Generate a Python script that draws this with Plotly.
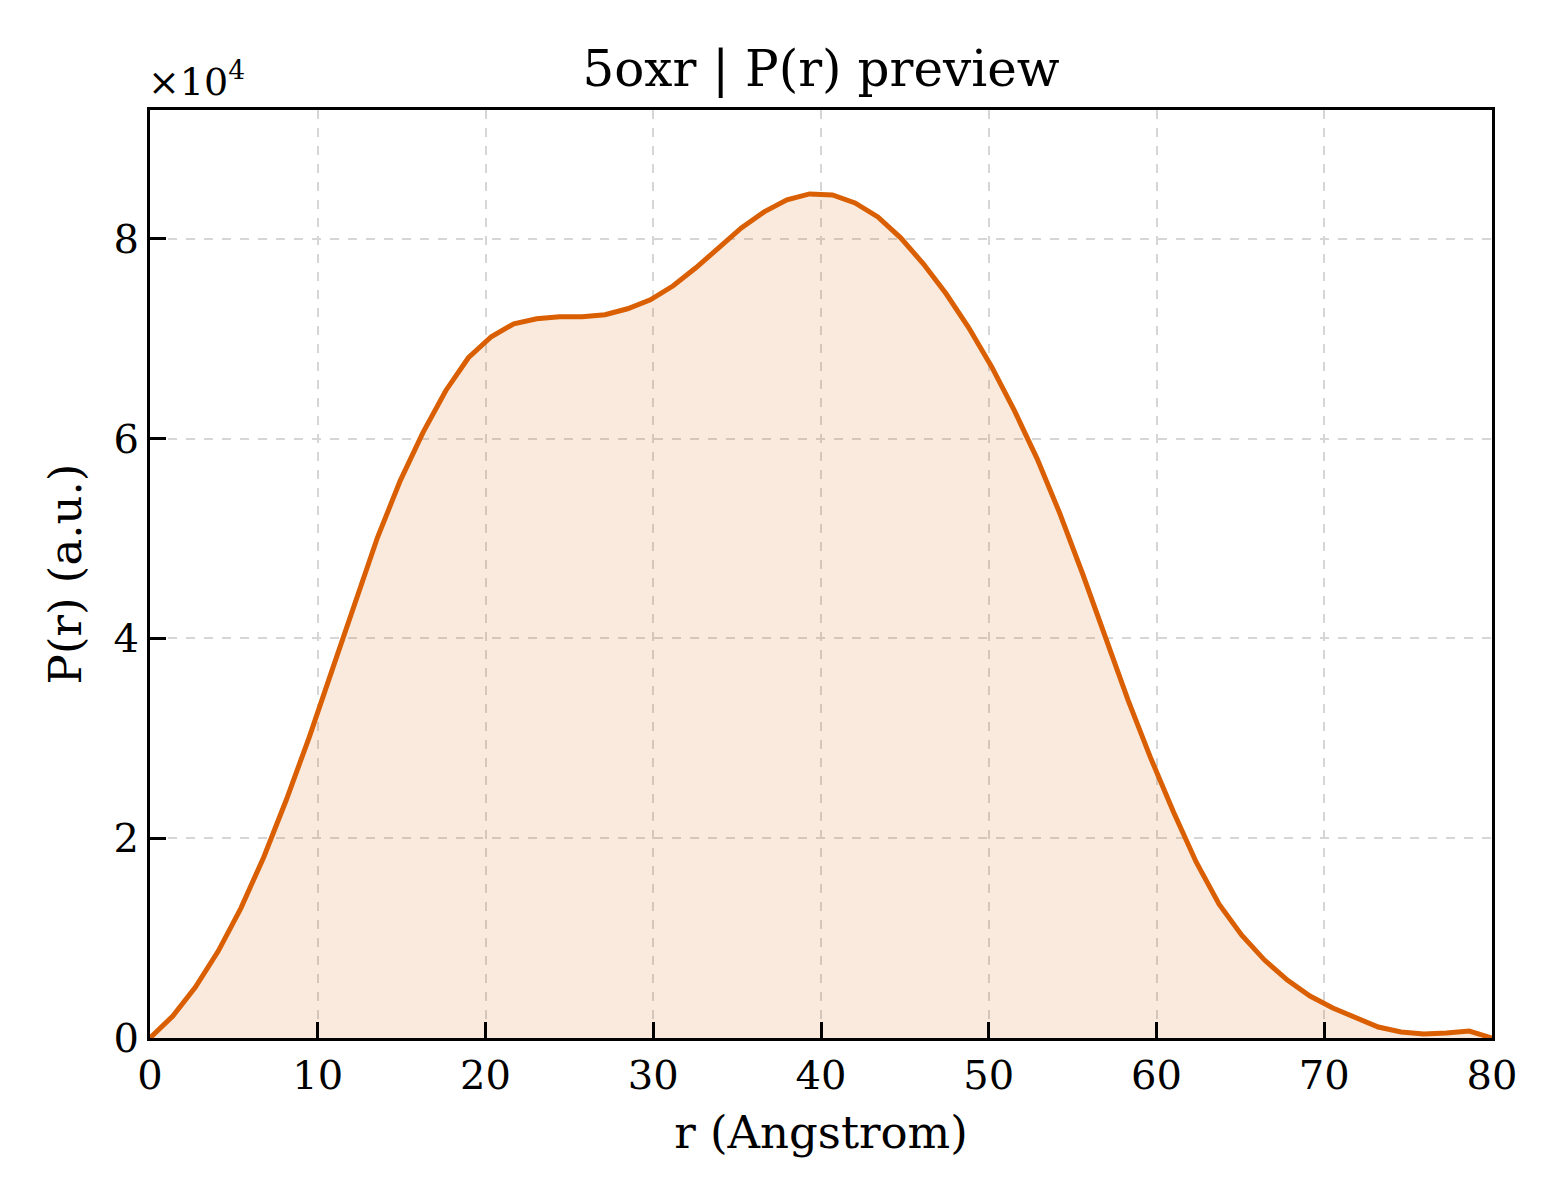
import plotly.graph_objects as go

r_angstrom = [0.00, 1.36, 2.71, 4.07, 5.42, 6.78, 8.14, 9.49, 10.85, 12.20,
              13.56, 14.92, 16.27, 17.63, 18.98, 20.34, 21.69, 23.05, 24.41, 25.76,
              27.12, 28.47, 29.83, 31.19, 32.54, 33.90, 35.25, 36.61, 37.97, 39.32,
              40.68, 42.03, 43.39, 44.75, 46.10, 47.46, 48.81, 50.17, 51.53, 52.88,
              54.24, 55.59, 56.95, 58.31, 59.66, 61.02, 62.37, 63.73, 65.08, 66.44,
              67.80, 69.15, 70.51, 71.86, 73.22, 74.58, 75.93, 77.29, 78.64, 80.00]
p_r = [0, 2200, 5100, 8700, 13000, 18100, 23900, 30100, 36800, 43500,
       50100, 55800, 60600, 64800, 68100, 70200, 71500, 72000, 72200, 72200,
       72400, 73000, 73900, 75300, 77100, 79100, 81100, 82700, 83900, 84500,
       84400, 83600, 82200, 80100, 77500, 74500, 71100, 67200, 62800, 58000,
       52500, 46500, 40200, 33800, 28000, 22600, 17600, 13400, 10300, 7800,
       5800, 4200, 3000, 2000, 1100, 600, 400, 500, 700, 0]

title = "5oxr | P(r) preview"
x_label = "r (Angstrom)"
y_label = "P(r) (a.u.)"
scale = 1e4

line_color = "#D95F02"
font = "DejaVu Serif"

y_scaled = [v / scale for v in p_r]

fig = go.Figure()
fig.add_trace(go.Scatter(
    x=r_angstrom, y=y_scaled,
    mode="lines",
    line=dict(color=line_color, width=5),
    fill="tozeroy",
    fillcolor="rgba(217,95,2,0.13)",
    showlegend=False,
))

axis_common = dict(
    showline=True, linecolor="black", linewidth=3, mirror=True,
    ticks="inside", ticklen=16, tickwidth=3, tickcolor="black",
    showgrid=True, gridcolor="#d6d6d6", gridwidth=1.5, griddash="dash",
    zeroline=False,
    tickfont=dict(family=font, size=40, color="black"),
)

fig.update_xaxes(range=[0, 80], dtick=10,
                 title=dict(text=x_label, font=dict(family=font, size=45, color="black"), standoff=20),
                 **axis_common)
fig.update_yaxes(range=[0, 9.29], dtick=2,
                 title=dict(text=y_label, font=dict(family=font, size=45, color="black"), standoff=18),
                 **axis_common)

fig.add_annotation(
    text="×10<sup>4</sup>", xref="paper", yref="paper", x=0, y=1,
    xanchor="left", yanchor="bottom", showarrow=False, xshift=-4, yshift=4,
    font=dict(family=font, size=38, color="black"),
)

# the page adds an 8px body margin, so the figure is sized to fit inside it
fig.update_layout(
    width=1552, height=1192,
    margin=dict(l=142, r=68, t=102, b=162),
    paper_bgcolor="white", plot_bgcolor="white",
    title=dict(text=title, x=0.5, xref="paper", y=1 - 60 / 1192, yanchor="middle",
               font=dict(family=font, size=50, color="black")),
    font=dict(family=font, color="black"),
)

fig.write_html("out.html")
